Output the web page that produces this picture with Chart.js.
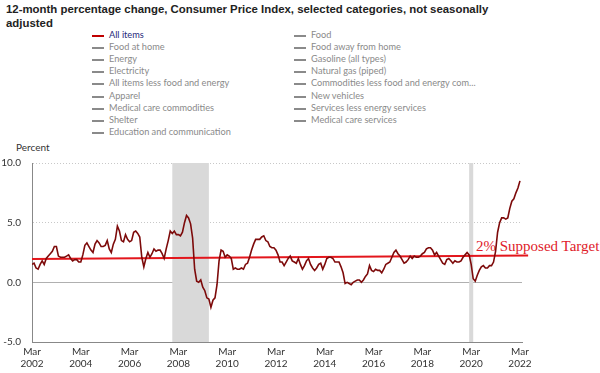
<!DOCTYPE html>
<html>
<head>
<meta charset="utf-8">
<script src="https://cdn.jsdelivr.net/npm/chart.js@4"></script>
<style>
  body { margin: 0; background: #fff; }
  #wrap { position: relative; width: 600px; height: 373px; overflow: hidden; }
  #title { position: absolute; left: 6px; top: 2px; font: bold 11.4px "Liberation Sans", Arial, sans-serif; line-height: 14px; color: #222; }
  .leg { position: absolute; font: 9.2px Lato, "Noto Sans", sans-serif; color: #8a8a8a; white-space: nowrap; }
  .leg i { position: absolute; left: -17px; top: 6px; width: 12px; height: 2px; background: #8a8a8a; }
  #yTitle { position: absolute; left: 16px; top: 141px; font: 10px Lato, "Noto Sans", sans-serif; color: #333; }
  #target { position: absolute; left: 476px; top: 238px; font: 15px "Liberation Serif", "Times New Roman", serif; color: #e0202a; white-space: nowrap; }
  canvas { position: absolute; left: 0; top: 140px; }
</style>
</head>
<body>
<div id="wrap">
  <div id="title">12-month percentage change, Consumer Price Index, selected categories, not seasonally<br>adjusted</div>
  <div id="legend"></div>
  <div id="yTitle">Percent</div>
  <div id="target">2% Supposed Target</div>
  <canvas id="chart" width="600" height="233"></canvas>
</div>
<script>
// series names in the legend (left column, then right column)
var legendLeft = ['All items', 'Food at home', 'Energy', 'Electricity', 'All items less food and energy',
    'Apparel', 'Medical care commodities', 'Shelter', 'Education and communication'];
var legendRight = ['Food', 'Food away from home', 'Gasoline (all types)', 'Natural gas (piped)',
    'Commodities less food and energy com...', 'New vehicles', 'Services less energy services', 'Medical care services'];

// first point is Mar 2002, one value per month
var startYear = 2002;
var startMonth = 3;
var allItems = [
    1.5, 1.6, 1.2, 1.1, 1.5, 1.8, 1.5, 2.0, 2.2, 2.4,
    2.6, 3.0, 3.0, 2.2, 2.1, 2.1, 2.1, 2.2, 2.3, 2.0, 1.8, 1.9,
    1.9, 1.7, 1.7, 2.3, 3.1, 3.3, 3.0, 2.7, 2.5, 3.2, 3.5, 3.3,
    3.0, 3.0, 3.1, 3.5, 2.8, 2.5, 3.2, 3.6, 4.7, 4.3, 3.5, 3.4,
    4.0, 3.6, 3.4, 3.5, 4.2, 4.3, 4.1, 3.8, 2.1, 1.3, 2.0, 2.5,
    2.1, 2.4, 2.8, 2.6, 2.7, 2.7, 2.4, 2.0, 2.8, 3.5, 4.3, 4.1,
    4.3, 4.0, 4.0, 3.9, 4.2, 5.0, 5.6, 5.4, 4.9, 3.7, 1.1, 0.1,
    0.0, 0.2, -0.4, -0.7, -1.3, -1.4, -2.1, -1.5, -1.3, -0.2, 1.8, 2.7,
    2.6, 2.1, 2.3, 2.2, 2.0, 1.1, 1.2, 1.1, 1.1, 1.2, 1.1, 1.5,
    1.6, 2.1, 2.7, 3.2, 3.6, 3.6, 3.6, 3.8, 3.9, 3.5, 3.4, 3.0,
    2.9, 2.9, 2.7, 2.3, 1.7, 1.7, 1.4, 1.7, 2.0, 2.2, 1.8, 1.7,
    1.6, 2.0, 1.5, 1.1, 1.4, 1.8, 2.0, 1.5, 1.2, 1.0, 1.2, 1.5,
    1.6, 1.1, 1.5, 2.0, 2.1, 2.1, 2.0, 1.7, 1.7, 1.7, 1.3, 0.8,
    -0.1, 0.0, -0.1, -0.2, 0.0, 0.1, 0.2, 0.2, 0.0, 0.2, 0.5, 0.7,
    1.4, 1.0, 0.9, 1.1, 1.0, 1.0, 0.8, 1.1, 1.5, 1.6, 1.7, 2.1,
    2.5, 2.7, 2.4, 2.2, 1.9, 1.6, 1.7, 1.9, 2.2, 2.0, 2.2, 2.1,
    2.1, 2.2, 2.4, 2.5, 2.8, 2.9, 2.9, 2.7, 2.3, 2.5, 2.2, 1.9,
    1.6, 1.5, 1.9, 2.0, 1.8, 1.6, 1.8, 1.7, 1.7, 1.8, 2.1, 2.3,
    2.5, 2.3, 1.5, 0.3, 0.1, 0.6, 1.0, 1.3, 1.4, 1.2, 1.2, 1.4,
    1.4, 1.7, 2.6, 4.2, 5.0, 5.4, 5.4, 5.3, 5.4, 6.2, 6.8, 7.0,
    7.5, 7.9, 8.5
];

// hand-drawn "2%" line, value at its two ends
var targetLine = [1.95, 2.25];
var targetEnds = ['2002-03', '2022-07'];

// recessions, shaded
var recessions = [['2007-12', '2009-06'], ['2020-02', '2020-04']];

var yTicks = [-5, 0, 5, 10];

function monthIndex(s) {
    var p = s.split('-');
    return (parseInt(p[0]) - startYear) * 12 + parseInt(p[1]) - startMonth;
}

// legend
var legendHtml = '';
legendLeft.forEach(function (name, i) {
    var first = i == 0;
    legendHtml += '<div class="leg" style="left:109px;top:' + (29 + i * 12.1) + 'px;' + (first ? 'color:#1f2a7a' : '') + '">' +
        '<i style="' + (first ? 'background:#c00000' : '') + '"></i>' + name + '</div>';
});
legendRight.forEach(function (name, i) {
    legendHtml += '<div class="leg" style="left:311px;top:' + (29 + i * 12.1) + 'px"><i></i>' + name + '</div>';
});
document.getElementById('legend').innerHTML = legendHtml;

var linePoints = allItems.map(function (v, i) { return { x: i, y: v }; });
var targetPoints = [
    { x: monthIndex(targetEnds[0]), y: targetLine[0] },
    { x: monthIndex(targetEnds[1]), y: targetLine[1] }
];

var shading = {
    id: 'shading',
    beforeDatasetsDraw: function (chart) {
        var ctx = chart.ctx, xs = chart.scales.x, ys = chart.scales.y;
        ctx.save();
        ctx.fillStyle = '#d9d9d9';
        recessions.forEach(function (r) {
            var x0 = xs.getPixelForValue(monthIndex(r[0]));
            var x1 = xs.getPixelForValue(monthIndex(r[1]));
            var y0 = ys.getPixelForValue(10);
            var y1 = ys.getPixelForValue(-5);
            ctx.fillRect(x0, y0, x1 - x0, y1 - y0);
        });
        ctx.restore();
    }
};

var cpiChart = new Chart(document.getElementById('chart'), {
    type: 'line',
    data: {
        datasets: [{
            label: 'All items',
            data: linePoints,
            borderColor: '#7d0a0a',
            borderWidth: 1.6,
            pointRadius: 0,
            tension: 0,
            order: 1
        }, {
            label: 'Target',
            data: targetPoints,
            borderColor: '#e3161c',
            borderWidth: 2,
            pointRadius: 0,
            clip: false,
            order: 2
        }]
    },
    options: {
        responsive: false,
        animation: false,
        events: [],
        layout: { padding: { top: 23, right: 78, left: 0, bottom: 0 } },
        plugins: { legend: { display: false }, tooltip: { enabled: false } },
        scales: {
            x: {
                type: 'linear',
                min: 0,
                max: 241,
                grid: { display: false, drawTicks: false },
                border: { display: true, color: '#888', width: 1 },
                afterFit: function (scale) { scale.height = 31; },
                ticks: {
                    stepSize: 24,
                    includeBounds: false,
                    autoSkip: false,
                    maxRotation: 0,
                    padding: 4,
                    color: '#333',
                    font: { family: 'Lato, "Noto Sans", sans-serif', size: 10 },
                    callback: function (v) {
                        if (v % 24 != 0) return '';
                        return ['Mar', String(startYear + v / 12)];
                    }
                }
            },
            y: {
                min: -5,
                max: 10,
                afterFit: function (scale) { scale.width = 32; },
                afterBuildTicks: function (scale) {
                    scale.ticks = yTicks.map(function (v) { return { value: v }; });
                },
                grid: {
                    drawTicks: false,
                    color: function (c) {
                        if (!c.tick) return '#888';
                        if (c.tick.value == 0) return '#b0b0b0';
                        if (c.tick.value == -5) return 'rgba(0,0,0,0)';
                        return '#c8c8c8';
                    }
                },
                border: {
                    display: true,
                    color: '#888',
                    dash: function (c) { return (!c.tick || c.tick.value == 0) ? [] : [1, 2]; }
                },
                ticks: {
                    padding: 11,
                    color: '#333',
                    font: { family: 'Lato, "Noto Sans", sans-serif', size: 10 },
                    callback: function (v) { return v.toFixed(1); }
                }
            }
        }
    },
    plugins: [shading]
});
</script>
</body>
</html>
